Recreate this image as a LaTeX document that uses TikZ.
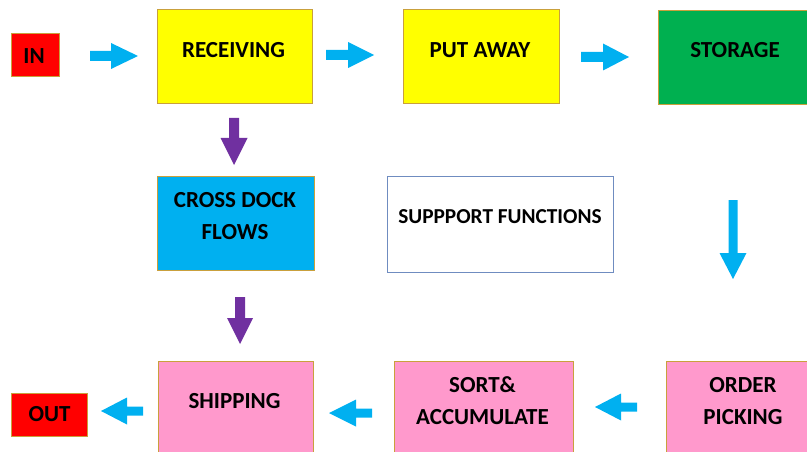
\documentclass[tikz,border=0pt]{standalone}
\usepackage{fontspec}
\setmainfont{Carlito}
\definecolor{boxred}{HTML}{FF0000}
\definecolor{boxyellow}{HTML}{FFFF00}
\definecolor{boxgreen}{HTML}{00B050}
\definecolor{boxblue}{HTML}{00B0F0}
\definecolor{boxpink}{HTML}{FF99CC}
\definecolor{arrowblue}{HTML}{00B0F0}
\definecolor{arrowpurple}{HTML}{7030A0}
\definecolor{goldline}{HTML}{C9A03C}
\definecolor{supline}{HTML}{6F8CC0}
\newcommand\harrow[7]{% color, xstart, xend, y, xheadbase, shaft half, head half
  \fill[#1] (#2,#4-#6) -- (#5,#4-#6) -- (#5,#4-#7) -- (#3,#4) -- (#5,#4+#7) -- (#5,#4+#6) -- (#2,#4+#6) -- cycle;}
\newcommand\varrow[7]{% color, ystart, yend, x, yheadbase, shaft half, head half
  \fill[#1] (#4-#6,#2) -- (#4-#6,#5) -- (#4-#7,#5) -- (#4,#3) -- (#4+#7,#5) -- (#4+#6,#5) -- (#4+#6,#2) -- cycle;}
\begin{document}
\begin{tikzpicture}[x=1pt,y=-1pt,
  box/.style={draw=goldline, line width=0.8pt, inner sep=0pt},
  txt/.style={font=\fontsize{23}{32}\selectfont\bfseries, inner sep=0pt, align=center, text=black},
  stxt/.style={font=\fontsize{21.3}{30}\selectfont\bfseries, inner sep=0pt, align=center, text=black}]
\useasboundingbox (0,0) rectangle (807,452);
\begin{scope}
\clip (0,0) rectangle (807,452);
% boxes
\filldraw[box, fill=boxred] (11,33) rectangle (59,76);
\node[txt] (in) at (34,56) {IN};
\filldraw[box, fill=boxyellow] (157,9) rectangle (312,103);
\node[txt] (rec) at (233.5,50) {RECEIVING};
\filldraw[box, fill=boxyellow] (403,9) rectangle (559,103);
\node[txt] (put) at (480,50) {PUT AWAY};
\filldraw[box, fill=boxgreen] (658,10) rectangle (814,104);
\node[txt] (sto) at (735,50) {STORAGE};
\filldraw[box, fill=boxblue] (157,176) rectangle (314,270);
\node[txt] (cross) at (235,216) {CROSS DOCK\\FLOWS};
\draw[draw=supline, line width=0.8pt] (387,176) rectangle (613,272);
\node[stxt] (sup) at (500,217) {SUPPPORT FUNCTIONS};
\filldraw[box, fill=boxpink] (158,361) rectangle (313,456);
\node[txt] (ship) at (234.5,401) {SHIPPING};
\filldraw[box, fill=boxpink] (394,361) rectangle (573,456);
\node[txt] (sort) at (482.5,401) {SORT\&\\ACCUMULATE};
\filldraw[box, fill=boxpink] (666,361) rectangle (822,456);
\node[txt] (order) at (743,401) {ORDER\\PICKING};
\filldraw[box, fill=boxred] (11,393) rectangle (87,436);
\node[txt] (out) at (49.5,414) {OUT};
% arrows
\harrow{arrowblue}{90}{138}{56}{111}{5}{13}
\harrow{arrowblue}{326}{374}{55}{348}{5}{13}
\harrow{arrowblue}{581}{629}{57}{603}{5}{13.5}
\varrow{arrowpurple}{118}{165}{234}{138}{5}{13.5}
\varrow{arrowpurple}{297}{344}{240}{318}{5}{13}
\varrow{arrowblue}{200}{279}{733}{253}{4.5}{13.5}
\harrow{arrowblue}{637}{595}{407}{621}{4.5}{13.5}
\harrow{arrowblue}{372}{329}{413}{356}{4.5}{13.5}
\harrow{arrowblue}{143}{101}{411}{127}{4.5}{13.5}
\end{scope}
\end{tikzpicture}
\end{document}
